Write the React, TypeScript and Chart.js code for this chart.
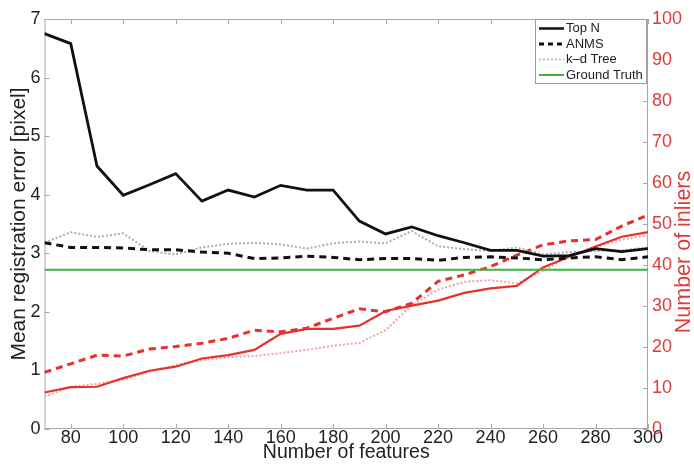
import React, { useEffect, useRef } from "react";
import { Chart, registerables } from "chart.js";

Chart.register(...registerables);

const FONT = "'Liberation Sans', Arial, sans-serif";

const features = [70, 80, 90, 100, 110, 120, 130, 140, 150, 160, 170, 180, 190, 200, 210, 220, 230, 240, 250, 260, 270, 280, 290, 300];

const topNError = [6.75, 6.58, 4.49, 3.99, 4.17, 4.36, 3.89, 4.08, 3.96, 4.16, 4.08, 4.08, 3.55, 3.33, 3.45, 3.3, 3.18, 3.05, 3.05, 2.95, 2.96, 3.08, 3.03, 3.08];
const anmsError = [3.18, 3.1, 3.1, 3.09, 3.06, 3.06, 3.02, 3.0, 2.91, 2.92, 2.95, 2.93, 2.89, 2.91, 2.91, 2.88, 2.93, 2.94, 2.92, 2.89, 2.92, 2.94, 2.89, 2.94];
const kdTreeError = [3.18, 3.36, 3.28, 3.34, 3.04, 2.98, 3.1, 3.16, 3.18, 3.15, 3.08, 3.17, 3.2, 3.17, 3.38, 3.12, 3.07, 3.04, 3.1, 2.98, 3.02, 3.04, 3.05, 3.1];
const groundTruthX = [70, 300];
const groundTruthError = [2.72, 2.72];

const topNInliers = [8.9, 10.2, 10.3, 12.4, 14.2, 15.2, 17.2, 18.0, 19.3, 23.2, 24.4, 24.4, 25.2, 28.8, 30.1, 31.3, 33.2, 34.3, 34.9, 39.4, 42.0, 44.5, 46.9, 48.0];
const anmsInliers = [13.8, 15.9, 18.0, 17.8, 19.5, 20.1, 20.9, 22.1, 24.1, 23.7, 24.6, 27.0, 29.3, 28.6, 30.7, 36.0, 37.6, 39.6, 42.4, 44.9, 45.9, 46.2, 49.5, 52.2];
const kdTreeInliers = [7.9, 10.3, 11.0, 12.0, 14.0, 15.6, 16.8, 17.5, 17.8, 18.5, 19.3, 20.3, 21.0, 24.1, 30.2, 34.0, 35.9, 36.3, 35.5, 38.6, 42.2, 44.3, 46.2, 47.3];

const xTicks = [80, 100, 120, 140, 160, 180, 200, 220, 240, 260, 280, 300];
const leftTicks = [0, 1, 2, 3, 4, 5, 6, 7];
const rightTicks = [0, 10, 20, 30, 40, 50, 60, 70, 80, 90, 100];

const legendLabels = ["Top N", "ANMS", "k\u2013d Tree", "Ground Truth"];

const BLACK = "#111111";
const GRAY = "#acacac";
const GREEN = "#3db43d";
const RED = "#e8302c";
const PINK = "#f2a2a2";
const RED_TEXT = "#de3b3b";
const FRAME = "#a8a8a8";

const legendStyles = [
  { color: BLACK, width: 2.5, dash: [] as number[] },
  { color: BLACK, width: 3, dash: [5, 4] },
  { color: GRAY, width: 1.5, dash: [2, 2] },
  { color: GREEN, width: 2, dash: [] as number[] },
];

const pts = (xs: number[], ys: number[]) => xs.map((x, i) => ({ x, y: ys[i] }));

const framePlugin = {
  id: "frame",
  beforeDatasetsDraw(chart: any) {
    const { ctx, chartArea } = chart;
    const { left, right, top, bottom } = chartArea;
    const xs = chart.scales.x;
    const yl = chart.scales.y;
    const yr = chart.scales.y2;
    ctx.save();
    ctx.strokeStyle = FRAME;
    ctx.lineWidth = 1;
    ctx.strokeRect(left + 0.5, top + 0.5, right - left - 1, bottom - top - 1);
    ctx.beginPath();
    const tl = 5;
    xTicks.forEach((v) => {
      const px = Math.round(xs.getPixelForValue(v)) + 0.5;
      ctx.moveTo(px, bottom);
      ctx.lineTo(px, bottom - tl);
      ctx.moveTo(px, top);
      ctx.lineTo(px, top + tl);
    });
    leftTicks.forEach((v) => {
      const py = Math.round(yl.getPixelForValue(v)) + 0.5;
      ctx.moveTo(left, py);
      ctx.lineTo(left + tl, py);
    });
    rightTicks.forEach((v) => {
      const py = Math.round(yr.getPixelForValue(v)) + 0.5;
      ctx.moveTo(right, py);
      ctx.lineTo(right - tl, py);
    });
    ctx.stroke();
    ctx.restore();
  },
  afterDatasetsDraw(chart: any) {
    const { ctx, chartArea } = chart;
    ctx.save();
    // legend box
    const bx = chartArea.right - 113;
    const by = chartArea.top;
    const bw = 111;
    const bh = 64;
    ctx.fillStyle = "#ffffff";
    ctx.fillRect(bx, by, bw, bh);
    ctx.strokeStyle = "#9a9a9a";
    ctx.lineWidth = 1;
    ctx.strokeRect(bx + 0.5, by + 0.5, bw, bh);
    ctx.font = `13px ${FONT}`;
    ctx.textBaseline = "middle";
    ctx.textAlign = "left";
    legendLabels.forEach((label, i) => {
      const y = by + 9.5 + i * 15.5;
      const st = legendStyles[i];
      ctx.beginPath();
      ctx.strokeStyle = st.color;
      ctx.lineWidth = st.width;
      ctx.setLineDash(st.dash);
      ctx.moveTo(bx + 4, y);
      ctx.lineTo(bx + 29, y);
      ctx.stroke();
      ctx.setLineDash([]);
      ctx.fillStyle = "#222";
      ctx.fillText(label, bx + 31, y);
    });
    // right axis title (reads bottom to top)
    ctx.translate(684, 252);
    ctx.rotate(-Math.PI / 2);
    ctx.font = `21.5px ${FONT}`;
    ctx.fillStyle = RED_TEXT;
    ctx.textAlign = "center";
    ctx.textBaseline = "middle";
    ctx.fillText("Number of inliers", 0, 0);
    ctx.restore();
  },
};

export default function App() {
  const canvasRef = useRef<HTMLCanvasElement | null>(null);

  useEffect(() => {
    if (!canvasRef.current) return;
    const line = (data: any, color: string, width: number, dash: number[], axis: string) => ({
      data,
      borderColor: color,
      backgroundColor: color,
      borderWidth: width,
      borderDash: dash,
      pointRadius: 0,
      tension: 0,
      fill: false,
      yAxisID: axis,
    });
    const chart = new Chart(canvasRef.current, {
      type: "line",
      data: {
        datasets: [
          { label: "Top N", ...line(pts(features, topNError), BLACK, 2.8, [], "y") },
          { label: "ANMS", ...line(pts(features, anmsError), BLACK, 3, [7, 5], "y") },
          { label: "k-d Tree", ...line(pts(features, kdTreeError), GRAY, 2, [2, 2], "y") },
          { label: "Ground Truth", ...line(pts(groundTruthX, groundTruthError), GREEN, 2, [], "y") },
          { label: "Top N inliers", ...line(pts(features, topNInliers), RED, 2.2, [], "y2") },
          { label: "ANMS inliers", ...line(pts(features, anmsInliers), RED, 3, [7, 5], "y2") },
          { label: "k-d Tree inliers", ...line(pts(features, kdTreeInliers), PINK, 2, [2, 2], "y2") },
        ],
      },
      options: {
        animation: false,
        responsive: false,
        devicePixelRatio: 1,
        events: [],
        layout: { padding: { top: 19, left: 0, right: 0, bottom: 0 } },
        plugins: { legend: { display: false }, tooltip: { enabled: false } },
        scales: {
          x: {
            type: "linear",
            position: "bottom",
            min: 70,
            max: 300,
            afterBuildTicks: (s: any) => {
              s.ticks = xTicks.map((v) => ({ value: v }));
            },
            afterFit: (s: any) => {
              s.height = 35;
            },
            grid: { display: false, drawTicks: false },
            border: { display: false },
            ticks: { padding: -2, color: "#222", font: { size: 18, family: FONT }, maxRotation: 0, autoSkip: false },
            title: {
              display: true,
              text: "Number of features",
              color: "#222",
              font: { size: 19.5, family: FONT },
              padding: { top: 0, bottom: 0 },
            },
          },
          y: {
            type: "linear",
            position: "left",
            min: 0,
            max: 7,
            afterBuildTicks: (s: any) => {
              s.ticks = leftTicks.map((v) => ({ value: v }));
            },
            afterFit: (s: any) => {
              s.width = 44.5;
            },
            grid: { display: false, drawTicks: false },
            border: { display: false },
            ticks: { padding: 4, color: "#222", font: { size: 18, family: FONT } },
            title: {
              display: true,
              text: "Mean registration error [pixel]",
              color: "#222",
              font: { size: 21, family: FONT },
              padding: { top: 7, bottom: 0 },
            },
          },
          y2: {
            type: "linear",
            position: "right",
            min: 0,
            max: 100,
            afterBuildTicks: (s: any) => {
              s.ticks = rightTicks.map((v) => ({ value: v }));
            },
            afterFit: (s: any) => {
              s.width = 46;
            },
            grid: { display: false, drawTicks: false },
            border: { display: false },
            ticks: { padding: 4, color: RED_TEXT, font: { size: 18, family: FONT } },
          },
        },
      },
      plugins: [framePlugin],
    } as any);
    return () => chart.destroy();
  }, []);

  return (
    <div style={{ position: "fixed", left: 0, top: 0, width: 694, height: 464, background: "#fff" }}>
      <canvas ref={canvasRef} width={694} height={464} style={{ display: "block" }} />
    </div>
  );
}
